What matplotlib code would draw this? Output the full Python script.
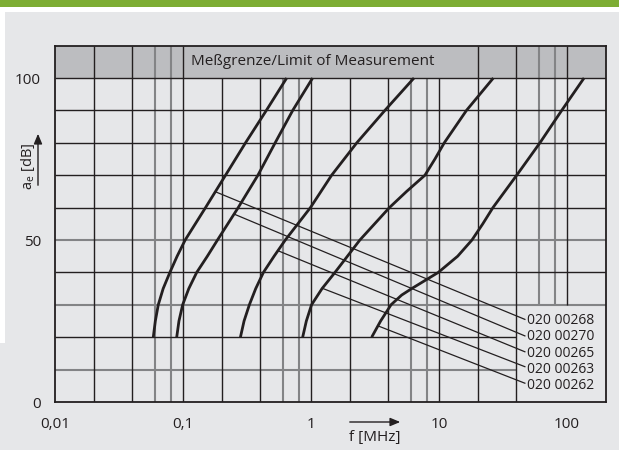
import numpy as np
import matplotlib
matplotlib.use('Agg')
import matplotlib.pyplot as plt
from matplotlib.patches import Rectangle

plt.rcParams['font.family'] = ['Open Sans', 'DejaVu Sans']
plt.rcParams['mathtext.fontset'] = 'custom'
plt.rcParams['mathtext.rm'] = 'Open Sans'

# attenuation curves: dB level -> frequency in MHz
db_a = [20, 25, 30, 35, 40, 45, 50, 60, 70, 80, 90, 100]
f_a = [0.0586, 0.0608, 0.0641, 0.0700, 0.0790, 0.0900, 0.104, 0.150, 0.215, 0.308, 0.448, 0.646]
db_b = [20, 25, 30, 35, 40, 45, 50, 60, 70, 80, 90, 100]
f_b = [0.0893, 0.0930, 0.0994, 0.111, 0.128, 0.155, 0.186, 0.270, 0.385, 0.525, 0.720, 1.03]
db_c = [20, 25, 30, 35, 40, 45, 50, 60, 70, 80, 90, 100]
f_c = [0.281, 0.300, 0.330, 0.370, 0.425, 0.515, 0.630, 0.990, 1.45, 2.28, 3.78, 6.38]
db_d = [20, 25, 30, 35, 40, 50, 60, 65, 70, 75, 80, 90, 100]
f_d = [0.861, 0.920, 1.01, 1.22, 1.54, 2.41, 4.10, 5.59, 7.77, 9.30, 11.0, 16.4, 26.6]
db_e = [20, 25, 30, 33, 35, 40, 45, 50, 55, 60, 70, 80, 90, 100]
f_e = [2.98, 3.50, 4.22, 5.11, 6.12, 9.88, 14.0, 18.1, 22.0, 26.4, 40.5, 61.5, 91.0, 136.0]

curves = [(db_a, f_a), (db_b, f_b), (db_c, f_c), (db_d, f_d), (db_e, f_e)]
part_numbers = ['020 00268', '020 00270', '020 00265', '020 00263', '020 00262']
leader_start_db = [64.9, 58.0, 46.7, 35.1, 23.5]
leader_end_db = [25.5, 20.4, 15.5, 10.9, 5.8]
leader_end_f = 46.9
label_f = 49.0
label_db = [25.1, 20.1, 14.9, 9.9, 5.0]

grid_black_x = [0.02, 0.04, 0.1, 0.2, 0.4, 1, 2, 4, 10, 20, 40, 100]
grid_gray_x = [0.06, 0.08, 0.6, 0.8, 6, 8, 60, 80]
grid_black_y = [20, 40, 60, 70, 80, 90, 100]
grid_gray_y = [10, 30, 50]
xtick_vals = [0.01, 0.1, 1, 10, 100]
xtick_labels = ['0,01', '0,1', '1', '10', '100']
ytick_vals = [0, 50, 100]

W, H = 619, 450
bg = '#e6e7e9'
ink = '#231f20'
gray_line = '#838486'

fig = plt.figure(figsize=(W / 100, H / 100), dpi=100)
fig.patch.set_facecolor(bg)


def fx(px):
    return px / W


def fy(py):
    return 1 - py / H


# top strip: green bar and white gap, white left margin
fig.patches.append(Rectangle((0, fy(12)), 1, 12 / H, transform=fig.transFigure,
                             facecolor='white', edgecolor='none', zorder=0))
fig.patches.append(Rectangle((0, fy(343)), fx(5), (343 - 12) / H, transform=fig.transFigure,
                             facecolor='white', edgecolor='none', zorder=0))
fig.patches.append(Rectangle((0, fy(7)), 1, 7 / H, transform=fig.transFigure,
                             facecolor='#7dad34', edgecolor='none', zorder=0))

ax = fig.add_axes([fx(55), 1 - 402 / H, (605.5 - 55) / W, (402 - 45.6) / H])
ax.set_facecolor(bg)
ax.set_xscale('log')
ax.set_xlim(0.01, 200)
ax.set_ylim(0, 110)

# measurement limit band
ax.axhspan(100, 110, color='#bcbdc0', zorder=0.5, lw=0)


def vgrid(x, color, lw):
    lo = 30 if x > 40 else 0
    hi = 100 if 0.1 < x < 20 else 110
    ax.plot([x, x], [lo, hi], color=color, lw=lw, zorder=1, solid_capstyle='butt')


def hgrid(y, color, lw):
    hi = 40 if y < 30 else 200
    ax.plot([0.01, hi], [y, y], color=color, lw=lw, zorder=1, solid_capstyle='butt')


for x in grid_gray_x:
    vgrid(x, gray_line, 1.5)
for y in grid_gray_y:
    hgrid(y, gray_line, 1.5)
for x in grid_black_x:
    vgrid(x, ink, 1.0)
for y in grid_black_y:
    hgrid(y, ink, 1.0)

ax.text(0.115, 105, 'Meßgrenze/Limit of Measurement', fontsize=11, color=ink,
        ha='left', va='center', zorder=3)

for db, f in curves:
    ax.plot(f, db, color=ink, lw=2.0, zorder=4, solid_capstyle='butt',
            solid_joinstyle='round')

for (db, f), s_db, e_db, ldb, name in zip(curves, leader_start_db, leader_end_db,
                                         label_db, part_numbers):
    s_f = 10 ** np.interp(s_db, db, np.log10(f))
    ax.plot([s_f, leader_end_f], [s_db, e_db], color=ink, lw=0.9, zorder=3)
    ax.text(label_f, ldb, name, fontsize=10, color=ink, ha='left', va='center', zorder=5)

for sp in ax.spines.values():
    sp.set_color(ink)
    sp.set_linewidth(1.3)
    sp.set_zorder(6)

ax.set_xticks(xtick_vals)
ax.set_xticklabels(xtick_labels)
ax.minorticks_off()
ax.set_yticks(ytick_vals)
ax.tick_params(axis='both', length=0, labelsize=11, labelcolor=ink)
ax.tick_params(axis='x', pad=11)
ax.tick_params(axis='y', pad=10)

# axis titles with arrows
fig.text(fx(375), fy(438), 'f [MHz]', fontsize=11, color=ink, ha='center', va='center')
fig.add_artist(matplotlib.patches.FancyArrowPatch(
    (fx(347), fy(422)), (fx(403), fy(422)), transform=fig.transFigure,
    arrowstyle='-|>,head_length=6,head_width=2.5', color=ink, lw=1.0))
fig.text(fx(28), fy(166), r'a$_\mathregular{e}$ [dB]', fontsize=10.5, color=ink,
         ha='center', va='center', rotation=90)
fig.add_artist(matplotlib.patches.FancyArrowPatch(
    (fx(38), fy(188)), (fx(38), fy(131)), transform=fig.transFigure,
    arrowstyle='-|>,head_length=6,head_width=2.5', color=ink, lw=1.0))

fig.savefig('out.png', dpi=100, facecolor=fig.get_facecolor())
